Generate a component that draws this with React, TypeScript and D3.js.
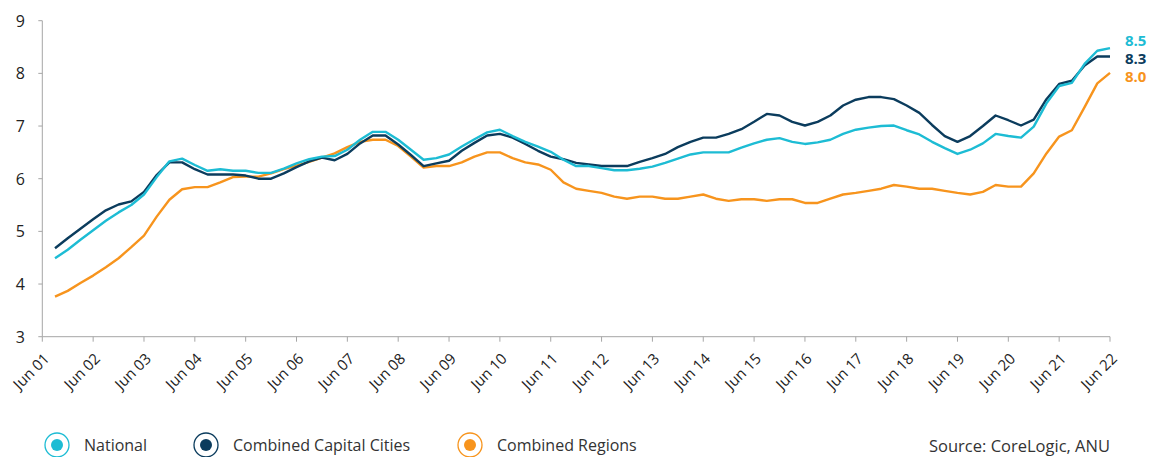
import React from 'react';
import * as d3 from 'd3';

// Quarterly data, Sep 2001 .. Jun 2022
const national = [
  4.49, 4.65, 4.84, 5.02, 5.20, 5.36, 5.50, 5.70, 6.03, 6.33,
  6.38, 6.26, 6.15, 6.18, 6.15, 6.15, 6.11, 6.11, 6.19, 6.29,
  6.37, 6.42, 6.43, 6.55, 6.74, 6.89, 6.89, 6.74, 6.55, 6.36,
  6.39, 6.46, 6.61, 6.75, 6.88, 6.93, 6.81, 6.70, 6.61, 6.51,
  6.36, 6.24, 6.24, 6.20, 6.16, 6.16, 6.19, 6.23, 6.30, 6.38,
  6.46, 6.50, 6.50, 6.50, 6.59, 6.67, 6.74, 6.77, 6.70, 6.66,
  6.69, 6.74, 6.85, 6.93, 6.97, 7.00, 7.01, 6.92, 6.84, 6.70,
  6.58, 6.47, 6.55, 6.67, 6.85, 6.81, 6.78, 6.99, 7.43, 7.76,
  7.82, 8.18, 8.43, 8.48,
];
const capitals = [
  4.68, 4.87, 5.05, 5.23, 5.40, 5.51, 5.57, 5.75, 6.07, 6.31,
  6.31, 6.18, 6.08, 6.08, 6.08, 6.06, 6.00, 6.00, 6.10, 6.22,
  6.33, 6.40, 6.35, 6.47, 6.67, 6.82, 6.82, 6.65, 6.45, 6.24,
  6.29, 6.34, 6.53, 6.68, 6.82, 6.85, 6.78, 6.66, 6.53, 6.42,
  6.37, 6.30, 6.27, 6.24, 6.24, 6.24, 6.32, 6.39, 6.47, 6.60,
  6.70, 6.78, 6.78, 6.85, 6.94, 7.08, 7.23, 7.20, 7.08, 7.01,
  7.08, 7.20, 7.39, 7.50, 7.55, 7.55, 7.51, 7.39, 7.25, 7.02,
  6.81, 6.70, 6.81, 7.00, 7.20, 7.11, 7.01, 7.12, 7.51, 7.80,
  7.86, 8.15, 8.32, 8.32,
];
const regions = [
  3.76, 3.87, 4.02, 4.16, 4.32, 4.49, 4.70, 4.92, 5.28, 5.60,
  5.80, 5.84, 5.84, 5.93, 6.03, 6.04, 6.04, 6.10, 6.18, 6.25,
  6.32, 6.40, 6.48, 6.60, 6.70, 6.74, 6.74, 6.62, 6.42, 6.21,
  6.24, 6.24, 6.31, 6.42, 6.50, 6.50, 6.39, 6.31, 6.27, 6.17,
  5.93, 5.81, 5.77, 5.73, 5.66, 5.62, 5.66, 5.66, 5.62, 5.62,
  5.66, 5.70, 5.62, 5.58, 5.61, 5.61, 5.58, 5.61, 5.61, 5.54,
  5.54, 5.62, 5.70, 5.73, 5.77, 5.81, 5.88, 5.85, 5.81, 5.81,
  5.77, 5.73, 5.70, 5.75, 5.88, 5.85, 5.85, 6.10, 6.48, 6.80,
  6.92, 7.36, 7.81, 8.01,
];

const tickLabels = [
  'Jun 01', 'Jun 02', 'Jun 03', 'Jun 04', 'Jun 05', 'Jun 06', 'Jun 07', 'Jun 08',
  'Jun 09', 'Jun 10', 'Jun 11', 'Jun 12', 'Jun 13', 'Jun 14', 'Jun 15', 'Jun 16',
  'Jun 17', 'Jun 18', 'Jun 19', 'Jun 20', 'Jun 21', 'Jun 22',
];
const yTicks = [3, 4, 5, 6, 7, 8, 9];
const seriesNames = ['National', 'Combined Capital Cities', 'Combined Regions'];
const endLabels = ['8.5', '8.3', '8.0'];
const sourceText = 'Source: CoreLogic, ANU';

const COLORS = ['#1dbcd4', '#0b3c5d', '#f7941d'];
const FONT = '"Open Sans", "Noto Sans", sans-serif';

export default function App() {
  const width = 1155;
  const height = 457;
  const x0 = 42.3;
  const x1 = 1110;
  const yTop = 20.7;
  const yBot = 336.7;

  // months since Jun 2001
  const x = d3.scaleLinear().domain([0, 252]).range([x0, x1]);
  const y = d3.scaleLinear().domain([3, 9]).range([yBot, yTop]);

  const monthOf = (i: number) => 3 + 3 * i;
  const line = d3
    .line<number>()
    .x((_, i) => x(monthOf(i)))
    .y((d) => y(d));

  const series = [national, capitals, regions];
  const labelY = [40, 58, 76];
  const legendX = [57, 206, 470];

  return (
    <svg
      width={width}
      height={height}
      style={{ position: 'absolute', left: 0, top: 0, background: '#fff' }}
      fontFamily={FONT}
    >
      {/* y axis */}
      <line x1={x0} x2={x0} y1={yTop} y2={yBot} stroke="#a6a6a6" strokeWidth={1} />
      {yTicks.map((t) => (
        <g key={t}>
          <line x1={x0 - 4} x2={x0} y1={y(t)} y2={y(t)} stroke="#a6a6a6" strokeWidth={1} />
          <text
            x={25}
            y={y(t)}
            textAnchor="end"
            dominantBaseline="central"
            fontSize={16}
            fill="#222"
          >
            {t}
          </text>
        </g>
      ))}
      {/* x axis */}
      <line x1={x0} x2={x1} y1={yBot} y2={yBot} stroke="#a6a6a6" strokeWidth={1} />
      {tickLabels.map((lab, k) => {
        const tx = x(k * 12);
        return (
          <g key={lab}>
            <line x1={tx} x2={tx} y1={yBot} y2={yBot + 5} stroke="#a6a6a6" strokeWidth={1} />
            <text
              transform={`translate(${tx + 8},${yBot + 23}) rotate(-45)`}
              textAnchor="end"
              fontSize={15}
              fill="#222"
            >
              {lab}
            </text>
          </g>
        );
      })}
      {/* lines: regions, capitals, national order */}
      {[2, 1, 0].map((s) => (
        <path
          key={s}
          d={line(series[s]) || ''}
          fill="none"
          stroke={COLORS[s]}
          strokeWidth={2.4}
          strokeLinejoin="round"
        />
      ))}
      {/* end labels */}
      {endLabels.map((l, k) => (
        <text
          key={l}
          x={1125}
          y={labelY[k]}
          dominantBaseline="central"
          fontSize={15}
          fontWeight="bold"
          fill={COLORS[k]}
        >
          {l}
        </text>
      ))}
      {/* legend */}
      {seriesNames.map((n, k) => (
        <g key={n}>
          <circle cx={legendX[k]} cy={445} r={12} fill="#fff" stroke={COLORS[k]} strokeWidth={1.3} />
          <circle cx={legendX[k]} cy={445} r={6} fill={COLORS[k]} />
          <text
            x={legendX[k] + 27}
            y={445}
            dominantBaseline="central"
            fontSize={16}
            fill="#333"
          >
            {n}
          </text>
        </g>
      ))}
      <text x={1110} y={445} textAnchor="end" dominantBaseline="central" fontSize={16.5} fill="#333">
        {sourceText}
      </text>
    </svg>
  );
}
